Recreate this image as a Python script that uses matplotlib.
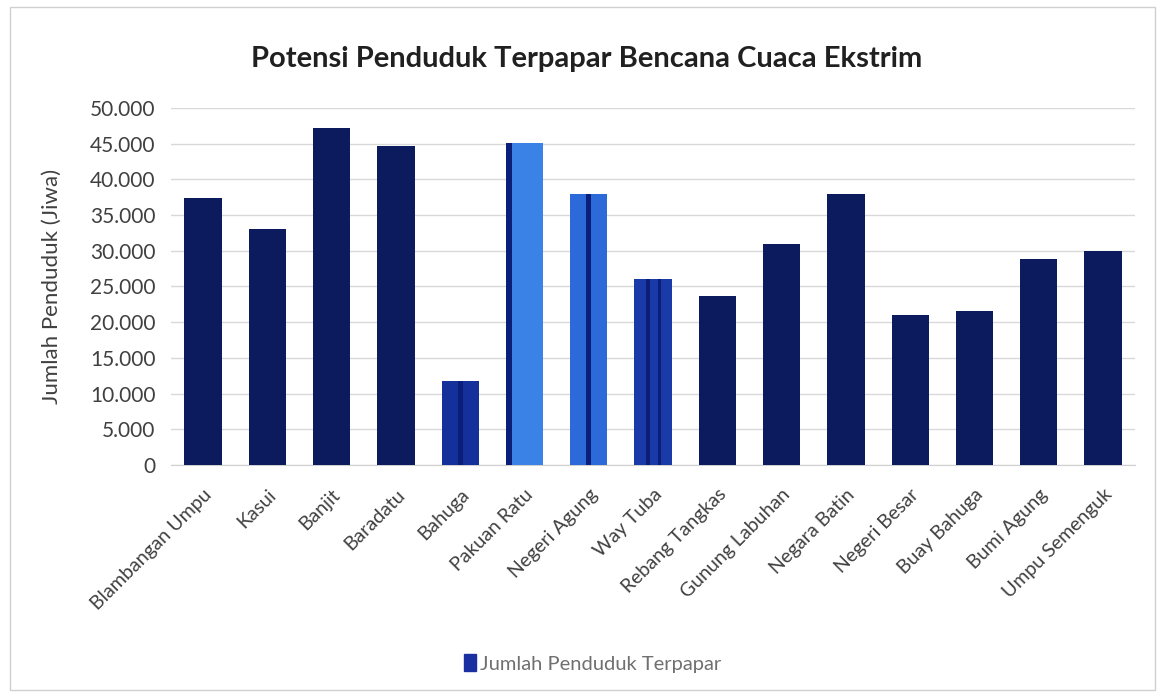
import matplotlib.pyplot as plt
from matplotlib.patches import Patch
from matplotlib.ticker import FuncFormatter

plt.rcParams['font.family'] = ['Lato', 'DejaVu Sans']

kecamatan = ['Blambangan Umpu', 'Kasui', 'Banjit', 'Baradatu', 'Bahuga',
             'Pakuan Ratu', 'Negeri Agung', 'Way Tuba', 'Rebang Tangkas',
             'Gunung Labuhan', 'Negara Batin', 'Negeri Besar', 'Buay Bahuga',
             'Bumi Agung', 'Umpu Semenguk']
penduduk = [37400, 33100, 47200, 44700, 11800, 45100, 37900, 26100, 23600,
            31000, 37900, 21000, 21500, 28900, 29900]
warna = ['#0c1a5e', '#0c1a5e', '#0c1a5e', '#0c1a5e', '#14309a',
         '#3b82e6', '#2b6ad8', '#1a3aa8', '#0c1a5e', '#0c1a5e', '#0c1a5e',
         '#0c1a5e', '#0c1a5e', '#0c1a5e', '#0c1a5e']
# thin darker stripes on a few bars: (index, offset, width)
garis = [(4, 0.0, 0.08), (5, -0.24, 0.1), (6, 0.0, 0.07), (7, -0.08, 0.06), (7, 0.1, 0.06)]

fig = plt.figure(figsize=(11.62, 6.97), dpi=100)
ax = fig.add_axes([0.147, 0.333, 0.83, 0.512])

x = list(range(len(kecamatan)))
ax.bar(x, penduduk, width=0.58, color=warna, zorder=3)
for i, off, w in garis:
    ax.bar(x[i] + off, penduduk[i], width=w, color='#0b1f7a', zorder=4)

ax.set_ylim(0, 50000)
ax.set_xlim(-0.5, len(kecamatan) - 0.5)
ax.set_yticks(range(0, 50001, 5000))
ax.yaxis.set_major_formatter(FuncFormatter(lambda v, p: f'{int(v):,}'.replace(',', '.')))
ax.grid(axis='y', color='#d9d9d9', linewidth=1, zorder=0)
for s in ['top', 'right', 'left']:
    ax.spines[s].set_visible(False)
ax.spines['bottom'].set_color('#d0d0d0')
ax.tick_params(axis='y', length=0, labelsize=15, colors='#404040', pad=11)
ax.tick_params(axis='x', length=0, colors='#404040', pad=15)
ax.set_xticks(x)
ax.set_xticklabels(kecamatan, rotation=45, ha='right', rotation_mode='anchor', fontsize=14)
ax.set_ylabel('Jumlah Penduduk (Jiwa)', fontsize=16, color='#404040')
ax.yaxis.set_label_coords(-0.113, 0.5)

fig.text(0.505, 0.916, 'Potensi Penduduk Terpapar Bencana Cuaca Ekstrim',
         ha='center', va='center', fontsize=21, fontweight='bold', color='#202020')

fig.legend([Patch(color='#1a2fa0')], ['Jumlah Penduduk Terpapar'], loc='center',
           bbox_to_anchor=(0.51, 0.048), frameon=False, fontsize=14.5,
           handlelength=0.6, handleheight=0.9, handletextpad=0.2, labelcolor='#707070')

fig.patches.append(plt.Rectangle((0.009, 0.01), 0.985, 0.98, transform=fig.transFigure,
                                 fill=False, edgecolor='#d0d0d0', linewidth=1))

fig.savefig('out.png', dpi=100)
